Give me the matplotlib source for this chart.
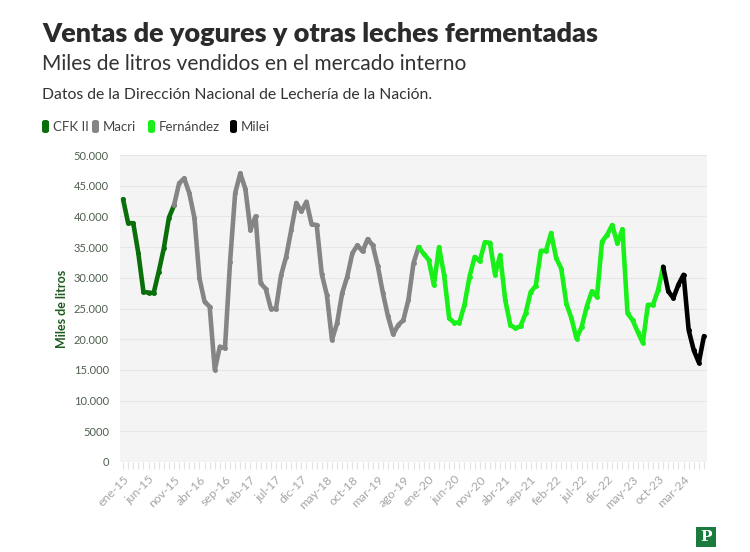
import matplotlib
matplotlib.use('Agg')
from matplotlib import pyplot as plt
from matplotlib.patches import FancyBboxPatch, Rectangle

# ventas mensuales (miles de litros), ene-15 .. jul-24
ventas = [
    42800, 38900, 38900, 34000, 27700, 27600, 27500, 31000, 34800, 39800,
    41800, 45400, 46200, 43800, 39800, 29900, 26100, 25300, 15000, 18800,
    18500, 32600, 43800, 47000, 44500, 37800, 40000, 29100, 28200, 25000,
    24900, 30400, 33400, 37800, 42200, 40800, 42400, 38700, 38600, 30600,
    27200, 19900, 22600, 27500, 30200, 34000, 35300, 34300, 36300, 35300,
    31900, 27500, 23700, 20800, 22300, 23100, 26400, 32400, 35000, 33900,
    32900, 28800, 35000, 30500, 23400, 22700, 22700, 25600, 30200, 33400,
    32700, 35800, 35700, 30500, 33700, 26400, 22300, 21800, 22100, 24200,
    27700, 28700, 34400, 34400, 37300, 33200, 31500, 25800, 23400, 20100,
    22000, 25300, 27800, 26900, 35900, 37000, 38600, 35600, 37900, 24200,
    23100, 21200, 19400, 25600, 25600, 28000, 31800, 27800, 26700, 28900,
    30500, 21500, 18200, 16200, 20500,
]

meses = ['ene', 'feb', 'mar', 'abr', 'may', 'jun',
         'jul', 'ago', 'sep', 'oct', 'nov', 'dic']
etiquetas = [f'{meses[i % 12]}-{15 + i // 12}' for i in range(len(ventas))]

gobiernos = ['CFK II', 'Macri', 'Fernández', 'Milei']
inicio = [0, 10, 58, 106]          # primer mes de cada tramo
fin = [10, 58, 106, len(ventas) - 1]
colores = ['#0a6e0a', '#858585', '#19f019', '#000000']

yticks = [0, 5000, 10000, 15000, 20000, 25000, 30000, 35000, 40000, 45000, 50000]
ytick_labels = ['0', '5000', '10.000', '15.000', '20.000', '25.000',
                '30.000', '35.000', '40.000', '45.000', '50.000']

plt.rcParams['font.family'] = ['Lato', 'DejaVu Sans']

fig = plt.figure(figsize=(7.5, 5.52), dpi=100)
ax = fig.add_axes([120 / 750, 1 - 462 / 552, 587 / 750, 307 / 552])
ax.set_facecolor('#f4f4f4')

for i, g in enumerate(gobiernos):
    xs = list(range(inicio[i], fin[i] + 1))
    ys = ventas[inicio[i]:fin[i] + 1]
    ax.plot(xs, ys, color=colores[i], lw=3.3, marker='o', ms=2.5,
            solid_joinstyle='round', solid_capstyle='round', zorder=3)

ax.set_xlim(-0.6, len(ventas) - 1 + 0.6)
ax.set_ylim(0, 50000)
ax.set_yticks(yticks)
ax.set_yticklabels(ytick_labels)
ax.set_xticks(list(range(0, len(ventas), 5)))
ax.set_xticklabels(etiquetas[::5], rotation=45, ha='right',
                   rotation_mode='anchor', color='#a6a6a6', fontsize=8.8)
ax.set_xticks(list(range(len(ventas))), minor=True)
ax.tick_params(axis='x', which='both', length=5, color='#e3e3e3', width=0.8)
ax.tick_params(axis='y', length=0, labelsize=8, labelcolor='#4f5f4f', pad=8)
ax.grid(axis='y', color='#e6e6e6', lw=0.8)
ax.set_axisbelow(True)
for s in ax.spines.values():
    s.set_visible(False)

ax.set_ylabel('Miles de litros', fontsize=9, fontweight='bold',
              color='#1d5a1d', labelpad=4)

# textos de cabecera
fig.text(42 / 750, 1 - 42 / 552, 'Ventas de yogures y otras leches fermentadas',
         fontsize=19.45, fontweight='heavy', color='#2b2b2b', va='baseline')
fig.text(42 / 750, 1 - 70 / 552, 'Miles de litros vendidos en el mercado interno',
         fontsize=15.15, color='#333333', va='baseline')
fig.text(42 / 750, 1 - 99 / 552, 'Datos de la Dirección Nacional de Lechería de la Nación.',
         fontsize=11.35, color='#333333', va='baseline')

# leyenda
leg_x = [42, 92, 148, 230]
for i, g in enumerate(gobiernos):
    fig.patches.append(FancyBboxPatch(
        (leg_x[i] / 750, 1 - 133 / 552), 7 / 750, 13 / 552,
        boxstyle='round,pad=0,rounding_size=0.004', transform=fig.transFigure,
        facecolor=colores[i], edgecolor='none'))
    fig.text((leg_x[i] + 11) / 750, 1 - 127 / 552, g, fontsize=9.5,
             color='#444444', va='center')

# logo
fig.patches.append(Rectangle((696 / 750, 1 - 547 / 552), 20 / 750, 20 / 552,
                             transform=fig.transFigure, facecolor='#1b7a3e',
                             edgecolor='none'))
fig.text(706 / 750, 1 - 537 / 552, 'P', fontsize=11, fontweight='bold',
         family='DejaVu Serif', color='white', ha='center', va='center')

plt.savefig('out.png', dpi=100)
plt.close(fig)
